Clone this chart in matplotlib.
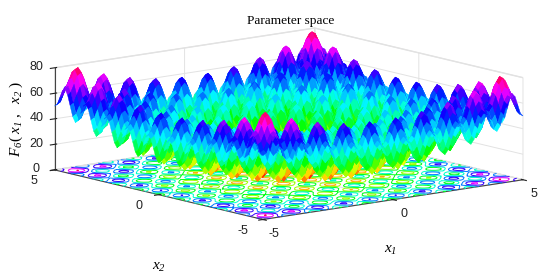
import numpy as np
import matplotlib
matplotlib.use("Agg")
import matplotlib.pyplot as plt

# height of one ridge profile, from the centre out to the edge (step 0.125)
half_profile = [0.0, 3.0, 10.1, 17.2, 20.3, 17.5, 10.6, 3.7, 1.0,
                4.2, 11.6, 19.0, 22.3, 19.7, 13.1, 6.5, 4.0,
                7.5, 15.1, 22.7, 26.3, 24.0, 17.6, 11.2, 9.0,
                12.7, 20.6, 28.5, 32.3, 30.2, 24.1, 18.0, 16.0,
                20.0, 28.1, 36.2, 40.3, 38.5, 32.6, 26.7, 25.0]
x_ticks = [-5, 0, 5]
z_ticks = [0, 20, 40, 60, 80]

profile = np.array(half_profile[:0:-1] + half_profile)
grid = np.linspace(-5, 5, len(profile))
X1, X2 = np.meshgrid(grid, grid)
F = np.add.outer(profile, profile)

plt.rcParams["font.family"] = ["Liberation Sans", "DejaVu Sans"]
plt.rcParams["axes.unicode_minus"] = False
# mathtext keeps digits upright in \mathit, so the bold slot holds the italic font
plt.rcParams["mathtext.fontset"] = "custom"
plt.rcParams["mathtext.it"] = "Liberation Serif:italic"
plt.rcParams["mathtext.rm"] = "Liberation Serif"
plt.rcParams["mathtext.bf"] = "Liberation Serif:italic"
serif = "Liberation Serif"

fig = plt.figure(figsize=(5.5, 2.8), dpi=100)
# square axes wider than the figure is tall, otherwise the surface gets clipped
ax = fig.add_axes([0.0115, -0.4436 - 0.007, 1, 1.964], projection="3d", computed_zorder=False)
ax.set_proj_type("ortho")
ax.view_init(elev=11, azim=-128.7)
ax.set_box_aspect((1, 1, 0.312), zoom=0.852)

bands = plt.get_cmap("hsv", 36)
ax.contour(X1, X2, F, levels=9, zdir="z", offset=0, cmap="hsv", vmin=0, vmax=84,
           linewidths=0.7, zorder=1)
surf = ax.plot_surface(X1, X2, F, cmap=bands, vmin=0, vmax=84, rstride=1, cstride=1,
                       linewidth=0, antialiased=True, shade=False, zorder=2)
surf.set_edgecolor("face")
surf.set_linewidth(0.3)

ax.set_xlim(-5, 5, view_margin=0)
ax.set_ylim(-5, 5, view_margin=0)
ax.set_zlim(0, 80, view_margin=0)
ax.set_xticks(x_ticks)
ax.set_yticks(x_ticks)
ax.set_zticks(z_ticks)
ax.tick_params(labelsize=9, colors="#222222", pad=0)
ax.xaxis.set_tick_params(pad=3)
ax.yaxis.set_tick_params(pad=8)
for label in ax.get_zticklabels():
    label.set_verticalalignment("center")
for label in ax.get_yticklabels():
    label.set_verticalalignment("center")

for axis in (ax.xaxis, ax.yaxis, ax.zaxis):
    axis.set_pane_color((1, 1, 1, 1))
    axis.pane.set_edgecolor("#e2e2e2")
    axis.line.set_color("#444444")
    axis._axinfo["grid"].update(color="#e2e2e2", linewidth=0.7)

fig.text(0.528, 0.925, "Parameter space", family=serif, fontsize=9.6, ha="center", va="center")
fig.text(0.71, 0.107, r"$\mathit{x}_{\mathbf{1}}$", fontsize=11, ha="center", va="center")
fig.text(0.29, 0.046, r"$\mathit{x}_{\mathbf{2}}$", fontsize=11, ha="center", va="center")
fig.text(0.03, 0.575, r"$\mathit{F}_{\mathbf{6}}(\ \mathit{x}_{\mathbf{1}}\ ,\ \ \mathit{x}_{\mathbf{2}}\ )$",
         rotation=90, fontsize=11, ha="center", va="center")

fig.savefig("out.png", dpi=100)
